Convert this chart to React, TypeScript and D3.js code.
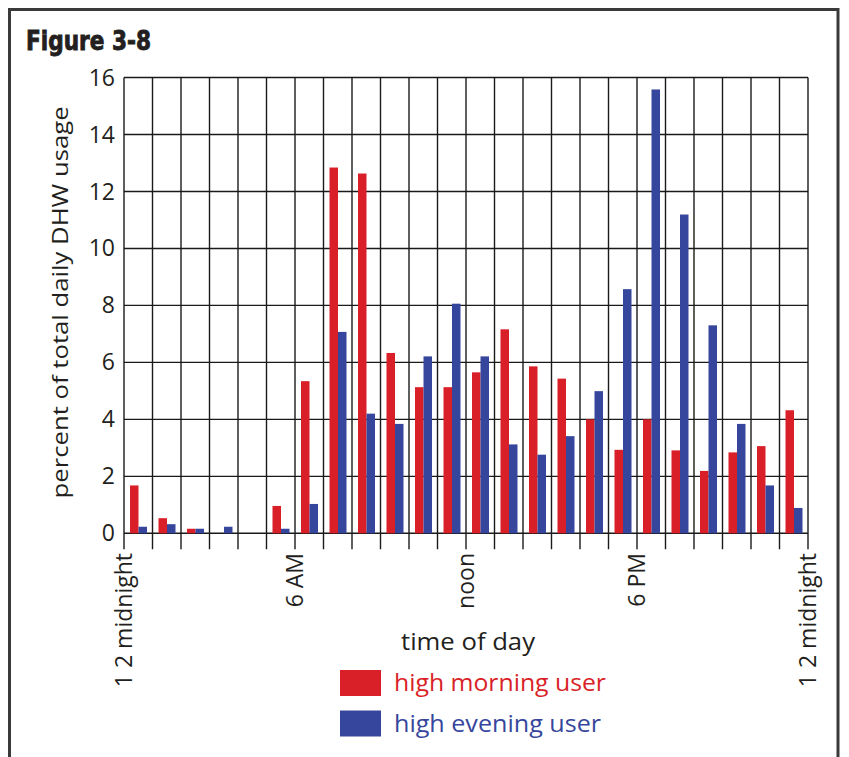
import React from "react";
import * as d3 from "d3";

// hourly share of daily hot water use
const hours = d3.range(24);
const morningUser = [1.68, 0.53, 0.16, 0, 0, 0.96, 5.34, 12.84, 12.63, 6.33, 5.13, 5.13, 5.65, 7.16, 5.86, 5.43, 4.0, 2.93, 4.0, 2.91, 2.19, 2.84, 3.06, 4.32];
const eveningUser = [0.23, 0.32, 0.16, 0.23, 0, 0.16, 1.03, 7.07, 4.2, 3.84, 6.21, 8.06, 6.21, 3.12, 2.76, 3.41, 4.99, 8.57, 15.58, 11.19, 7.3, 3.84, 1.68, 0.89];
const yTicks = [0, 2, 4, 6, 8, 10, 12, 14, 16];
const xLabelHours = [0, 6, 12, 18, 24];
const xLabels = ["1 2 midnight", "6 AM", "noon", "6 PM", "1 2 midnight"];
const seriesNames = ["high morning user", "high evening user"];
const seriesColors = ["#d91f27", "#36469c"];

const font = "'Open Sans', 'Noto Sans', sans-serif";

const App = () => {
  const left = 124, right = 808, top = 77.5, bottom = 533.3;

  const xHour = d3.scaleLinear().domain([0, 24]).range([left, right]);
  const xBand = d3.scaleBand<number>().domain(hours).range([left, right]).paddingInner(0);
  const xSeries = d3.scaleBand<number>().domain([0, 1]).range([6, 23]);
  const y = d3.scaleLinear().domain([0, 16]).range([bottom, top]);

  const series = [morningUser, eveningUser];
  const gridColor = "#1a1a1a";

  return (
    <svg width={849} height={757} style={{ position: "absolute", left: 0, top: 0, display: "block", background: "#fff" }}>
      {/* frame */}
      <path d="M9.5,760 L9.5,9.5 L838,9.5 L838,760" fill="none" stroke="#3a3a3a" strokeWidth={3} />
      <text x={26} y={50} fontFamily="'DejaVu Sans Condensed', 'DejaVu Sans', sans-serif" fontWeight="bold" fontSize={26} textLength={125} lengthAdjust="spacingAndGlyphs" fill="#231f20" stroke="#231f20" strokeWidth={0.8}>
        Figure 3-8
      </text>

      {/* grid */}
      {yTicks.map(t => (
        <line key={"h" + t} x1={left} x2={right} y1={y(t)} y2={y(t)} stroke={gridColor} strokeWidth={1.4} />
      ))}
      {d3.range(25).map(h => (
        <line key={"v" + h} x1={xHour(h)} x2={xHour(h)} y1={top} y2={bottom + 16} stroke={gridColor} strokeWidth={1.4} />
      ))}

      {/* bars */}
      {series.map((vals, si) =>
        vals.map((v, i) =>
          v > 0 ? (
            <rect
              key={si + "-" + i}
              x={(xBand(i) as number) + (xSeries(si) as number)}
              y={y(v)}
              width={xSeries.bandwidth()}
              height={y(0) - y(v)}
              fill={seriesColors[si]}
            />
          ) : null
        )
      )}

      {/* y axis labels */}
      {yTicks.map(t => (
        <text key={"yl" + t} x={115} y={y(t)} dy="0.35em" textAnchor="end" fontFamily={font} fontSize={23} fill="#231f20">
          {t}
        </text>
      ))}
      <text transform={`translate(68,${(top + bottom) / 2 - 3}) rotate(-90)`} textAnchor="middle" fontFamily={font} fontSize={22} textLength={392} lengthAdjust="spacingAndGlyphs" fill="#231f20">
        percent of total daily DHW usage
      </text>

      {/* x axis labels */}
      {xLabelHours.map((h, i) => (
        <text key={"xl" + h} transform={`translate(${xHour(h)},553) rotate(-90)`} dy="0.35em" textAnchor="end" fontFamily={font} fontSize={23} fill="#231f20">
          {xLabels[i]}
        </text>
      ))}
      <text x={468} y={650} textAnchor="middle" fontFamily={font} fontSize={23} textLength={134} lengthAdjust="spacingAndGlyphs" fill="#231f20">
        time of day
      </text>

      {/* legend */}
      {seriesNames.map((name, i) => (
        <g key={name} transform={`translate(340,${670 + i * 40.5})`}>
          <rect width={41} height={26} fill={seriesColors[i]} />
          <text x={54} y={13} dy="0.35em" fontFamily={font} fontSize={23} textLength={i === 0 ? 212 : 207} lengthAdjust="spacingAndGlyphs" fill={seriesColors[i]}>
            {name}
          </text>
        </g>
      ))}
    </svg>
  );
};

export default App;
